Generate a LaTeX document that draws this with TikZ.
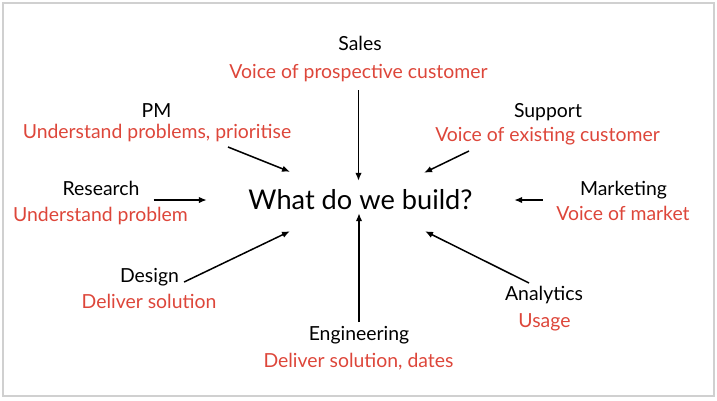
\documentclass[tikz,border=0pt]{standalone}
\usepackage{fontspec}
\setmainfont{Lato}
\usetikzlibrary{arrows.meta,positioning,calc}
\definecolor{voicered}{RGB}{221,70,58}
\definecolor{framegray}{RGB}{208,208,208}

\begin{document}
\begin{tikzpicture}[x=1pt,y=-1pt,
  role/.style={inner sep=0pt,anchor=base,font=\fontsize{19.4}{22}\selectfont},
  desc/.style={role,text=voicered},
  hub/.style={inner sep=0pt,minimum width=307pt,minimum height=62pt,font=\fontsize{27.2}{32}\selectfont},
  arr/.style={-{Latex[length=8pt,width=6.5pt]},line width=1.5pt}]
\useasboundingbox (0,0) rectangle (717,400);
\draw[framegray,line width=1.5pt] (3,3) rectangle (714,396);
\node[hub](q) at (360.5,200){What do we build?};
\node[role](sales) at (360,50){Sales};
\node[desc](salesd) at (358.5,78){Voice of prospective customer};
\node[role](pm) at (156.5,117){PM};
\node[desc](pmd) at (157,138){Understand problems, prioritise};
\node[role](sup) at (548,117){Support};
\node[desc](supd) at (547.5,141){Voice of existing customer};
\node[role](res) at (101,195){Research};
\node[desc](resd) at (100.5,221){Understand problem};
\node[role](mkt) at (623.5,195){Marketing};
\node[desc](mktd) at (623,220){Voice of market};
\node[role](des) at (149.5,282){Design};
\node[desc](desd) at (149,308){Deliver solution};
\node[role](ana) at (544,300){Analytics};
\node[desc](anad) at (544.5,327){Usage};
\node[role](eng) at (359,340){Engineering};
\node[desc](engd) at (358.5,367){Deliver solution, dates};
\draw[arr]([yshift=-12pt]salesd.base)--([yshift=-12pt]salesd.base |- q.north);
\draw[arr]([xshift=71pt,yshift=-9pt]pmd.base)--([xshift=-70.5pt,yshift=-3pt]q.north);
\draw[arr]([xshift=-78.5pt,yshift=-10pt]supd.base)--([xshift=63.5pt,yshift=-4pt]q.north);
\draw[arr]([xshift=14pt,yshift=-5pt]res.base east)--(q.west);
\draw[arr]([xshift=-37pt,yshift=-5pt]mkt.base west)--(q.east);
\draw[arr]([xshift=5pt]des.base east)--([xshift=-70.5pt]q.south);
\draw[arr]([yshift=18pt]eng.base)--([yshift=18pt]eng.base |- q.south);
\draw[arr]([xshift=-15pt,yshift=17pt]ana.base)--([xshift=64.5pt]q.south);
\end{tikzpicture}
\end{document}
